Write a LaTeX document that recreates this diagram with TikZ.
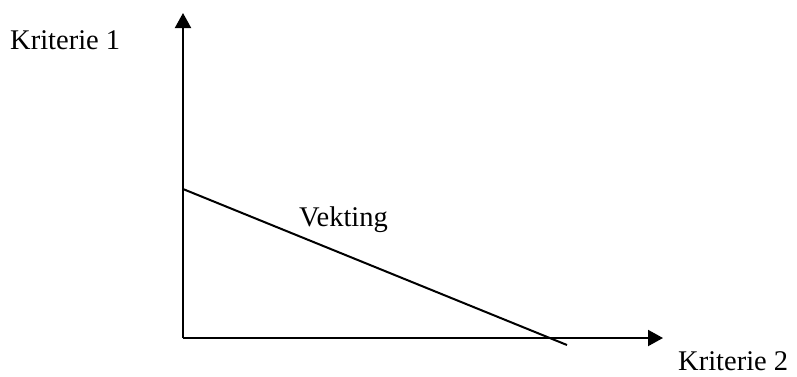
\documentclass[tikz,border=0pt]{standalone}
\usepackage{fontspec}
\setmainfont{Liberation Serif}
\usetikzlibrary{arrows.meta}
\begin{document}
\begin{tikzpicture}[x=1pt,y=-1pt,
  axis/.style={line width=2pt,-{Triangle[length=15pt,width=16pt]}},
  lbl/.style={inner sep=0pt,anchor=base west,font=\fontsize{28.5}{34}\selectfont}]
\useasboundingbox (0,0) rectangle (797,376);
\coordinate (O) at (183,338);
\coordinate (ytop) at (183,13);
\coordinate (xend) at (663,338);
\coordinate (wa) at (183,189);
\coordinate (wb) at (567,345);
\draw[axis] (O) -- (ytop);
\draw[axis] (O) -- (xend);
\draw[line width=2pt] (wa) -- (wb);
\node[lbl] (k1) at (10,49) {Kriterie 1};
\node[lbl] (k2) at (678,370) {Kriterie 2};
\node[lbl] (v) at (299,226) {Vekting};
\end{tikzpicture}
\end{document}
